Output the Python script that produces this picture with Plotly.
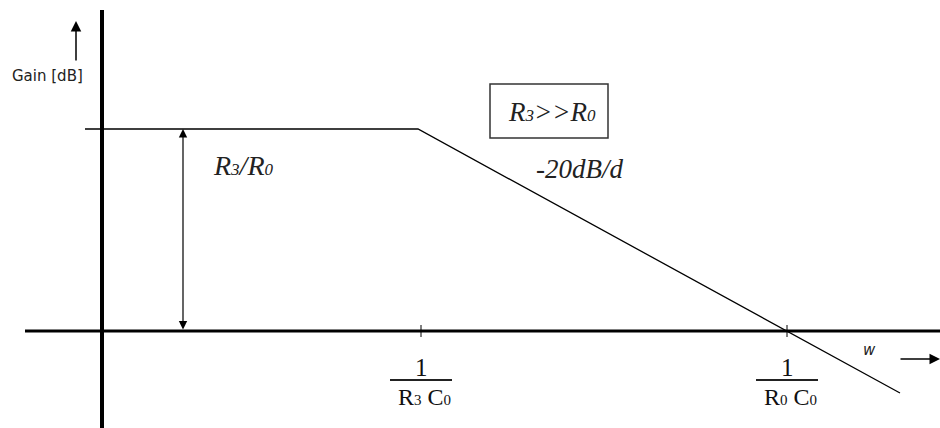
import plotly.graph_objects as go

# Bode magnitude sketch, axis units: 1 unit = one grid step of the sketch
gain_x = [-0.17, 3.16, 7.98]
gain_y = [2.02, 2.02, -0.62]
corner_w = [3.19, 6.85]
corner_num = ["1", "1"]
corner_den = [("R", "3", "C", "0"), ("R", "0", "C", "0")]
passband_gain = 2.02

serif = "Liberation Serif"
sans = "DejaVu Sans"


def small(d, size):
    # small digit sitting on the baseline, like the sketch's subscripts
    return '<span style="font-size:%dpx">%s</span>' % (size, d)


fig = go.Figure()

# axes of the sketch
fig.add_shape(type="line", x0=-0.77, x1=8.4, y0=0, y1=0, line=dict(color="black", width=3))
fig.add_shape(type="line", x0=0, x1=0, y0=3.21, y1=-1.0, line=dict(color="black", width=4))

# gain curve
fig.add_trace(go.Scatter(x=gain_x, y=gain_y, mode="lines",
                         line=dict(color="black", width=1.3), hoverinfo="skip"))

# corner frequency ticks and fraction labels
for w, num, den in zip(corner_w, corner_num, corner_den):
    fig.add_shape(type="line", x0=w, x1=w, y0=-0.06, y1=0.06, line=dict(color="black", width=1))
    fig.add_shape(type="line", x0=w - 0.31, x1=w + 0.31, y0=-0.49, y1=-0.49,
                  line=dict(color="#222", width=2))
    fig.add_annotation(x=w, y=-0.36, text=num, showarrow=False,
                       font=dict(family=serif, size=25, color="#111"))
    lab = den[0] + small(den[1], 15) + " " + den[2] + small(den[3], 15)
    fig.add_annotation(x=w + 0.03, y=-0.66, text=lab, showarrow=False,
                       font=dict(family=serif, size=24, color="#111"))

# Gain [dB] label with arrow
fig.add_annotation(x=-0.55, y=2.55, text="Gain [dB]", showarrow=False,
                   font=dict(family=sans, size=15, color="#222"))
fig.add_annotation(x=-0.26, y=3.1, ax=-0.26, ay=2.69, axref="x", ayref="y",
                   text="", showarrow=True, arrowhead=2, arrowsize=1.4, arrowwidth=1.5,
                   arrowcolor="black")

# double arrow for passband gain
fig.add_annotation(x=0.81, y=passband_gain, ax=0.81, ay=0, axref="x", ayref="y",
                   text="", showarrow=True, arrowhead=2, startarrowhead=2,
                   arrowside="end+start", arrowsize=1.4, startarrowsize=1.4,
                   arrowwidth=1.2, arrowcolor="black")
fig.add_annotation(x=1.41, y=1.66, text="<i>R" + small("3", 17) + "/R" + small("0", 17) + "</i>",
                   showarrow=False, font=dict(family=serif, size=28, color="#222"))

# condition box
fig.add_shape(type="rect", x0=3.88, x1=5.06, y0=1.93, y1=2.47,
              line=dict(color="#333", width=1.5))
fig.add_annotation(x=4.50, y=2.19, text="<i>R" + small("3", 17) + "&gt;&gt;R" + small("0", 17) + "</i>",
                   showarrow=False, font=dict(family=serif, size=27, color="#222"))

# slope label
fig.add_annotation(x=4.77, y=1.62, text="<i>-20dB/d</i>", showarrow=False,
                   font=dict(family=serif, size=27, color="#222"))

# w label with arrow
fig.add_annotation(x=7.67, y=-0.19, text="<i>w</i>", showarrow=False,
                   font=dict(family=sans, size=15, color="#222"))
fig.add_annotation(x=8.38, y=-0.28, ax=7.97, ay=-0.28, axref="x", ayref="y",
                   text="", showarrow=True, arrowhead=2, arrowsize=1.4, arrowwidth=1.5,
                   arrowcolor="black")

fig.update_layout(
    width=940, height=428,
    margin=dict(l=0, r=0, t=0, b=0),
    paper_bgcolor="white", plot_bgcolor="white",
    showlegend=False,
    xaxis=dict(range=[-1.02, 8.38], visible=False, fixedrange=True),
    yaxis=dict(range=[-0.97, 3.31], visible=False, fixedrange=True),
)

# drop the browser's default body margin so the sketch sits at the window edge
fig.write_html("out.html", config={"displayModeBar": False},
               post_script="document.body.style.margin='0';")
